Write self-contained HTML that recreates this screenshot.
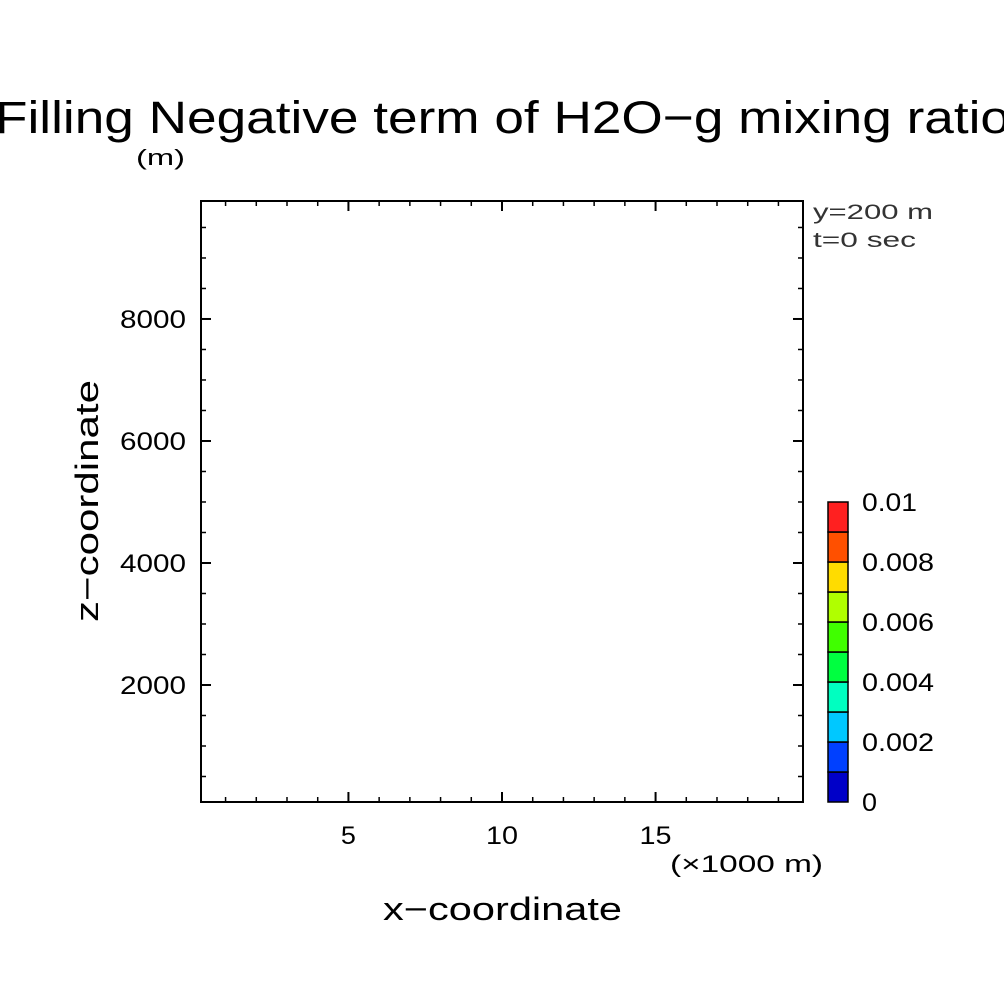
<!DOCTYPE html>
<html><head><meta charset="utf-8"><style>
html,body{margin:0;padding:0;background:#fff;}
svg{display:block;font-family:"Liberation Sans",sans-serif;}
</style></head><body>
<svg id="chart" width="1004" height="1004" viewBox="0 0 1004 1004">
<rect width="1004" height="1004" fill="#fff"/>
<text x="-5" y="133" font-size="45" textLength="1015" lengthAdjust="spacingAndGlyphs">Filling Negative term of H2O−g mixing ratio</text>
<text x="136" y="165" font-size="22" textLength="49" lengthAdjust="spacingAndGlyphs">(m)</text>
<text x="813" y="219" font-size="21" fill="#333" textLength="120" lengthAdjust="spacingAndGlyphs">y=200 m</text>
<text x="813" y="247" font-size="21" fill="#333" textLength="103" lengthAdjust="spacingAndGlyphs">t=0 sec</text>
<g id="axes"></g>
<rect x="201" y="201" width="602" height="601" fill="none" stroke="#000" stroke-width="2"/>
<text x="670" y="872" font-size="24" textLength="153" lengthAdjust="spacingAndGlyphs">(×1000 m)</text>
<text x="383" y="920" font-size="32" textLength="239" lengthAdjust="spacingAndGlyphs">x−coordinate</text>
<text transform="translate(98,622) rotate(-90)" font-size="32" textLength="242" lengthAdjust="spacingAndGlyphs">z−coordinate</text>
<g id="cbar"></g>
</svg>
<script>
const xTicks=[5,10,15];
const yTicks=[2000,4000,6000,8000];
const cbarLevels=[0,0.001,0.002,0.003,0.004,0.005,0.006,0.007,0.008,0.009,0.01];
const cbarColors=["#0000c8","#0040ff","#00c8ff","#00ffc0","#00ff40","#40ff00","#b0ff00","#ffdc00","#ff5000","#ff2020"];
const cbarLabels=["0","0.002","0.004","0.006","0.008","0.01"];
const NS="http://www.w3.org/2000/svg";
const xmin=0.2,xmax=19.8,ymin=82,ymax=9934;
const X=v=>201+(v-xmin)/(xmax-xmin)*602;
const Y=v=>802-(v-ymin)/(ymax-ymin)*601;
const axes=document.getElementById('axes');
function line(p,x1,y1,x2,y2,w){const l=document.createElementNS(NS,'line');l.setAttribute('x1',x1);l.setAttribute('y1',y1);l.setAttribute('x2',x2);l.setAttribute('y2',y2);l.setAttribute('stroke','#000');l.setAttribute('stroke-width',w||1.5);p.appendChild(l);return l;}
function text(p,x,y,s,fs,anchor){const t=document.createElementNS(NS,'text');t.setAttribute('x',x);t.setAttribute('y',y);t.setAttribute('font-size',fs);t.setAttribute('text-anchor',anchor||'start');t.setAttribute('textLength',s.replace('.','').length*17-2+(s.includes('.')?6:0));t.setAttribute('lengthAdjust','spacingAndGlyphs');t.textContent=s;p.appendChild(t);return t;}
for(let v=1;v<20;v++){const x=X(v);const maj=v%5===0;const L=maj?10:5;
 const a=line(axes,x,802,x,802-L,maj?2:1.5);
 
 
 line(axes,x,201,x,201+L,maj?2:1.5);}
for(let v=500;v<10000;v+=500){const y=Y(v);const maj=v%2000===0;const L=maj?10:5;
 const a=line(axes,201,y,201+L,y,maj?2:1.5);
 
 
 line(axes,803,y,803-L,y,maj?2:1.5);}
xTicks.forEach(v=>{const t=text(axes,X(v),844,String(v),25,'middle');
 
 });
yTicks.forEach(v=>{const t=text(axes,186,Y(v)+9,String(v),25,'end');
 
 });
const cb=document.getElementById('cbar');
const cTop=502,cBot=802,cx=828,cw=20;
const n=cbarColors.length;const CY=v=>cBot-(v-cbarLevels[0])/(cbarLevels[n]-cbarLevels[0])*(cBot-cTop);
cbarColors.forEach((c,i)=>{const r=document.createElementNS(NS,'rect');
 r.setAttribute('x',cx);r.setAttribute('y',CY(cbarLevels[i+1]));r.setAttribute('width',cw);r.setAttribute('height',CY(cbarLevels[i])-CY(cbarLevels[i+1]));
 r.setAttribute('fill',c);r.setAttribute('stroke','#000');r.setAttribute('stroke-width',1.5);
 
 
 cb.appendChild(r);});
cbarLabels.forEach(s=>{const t=text(cb,862,CY(parseFloat(s))+9,s,25,'start');
 
 });
</script>
</body></html>
